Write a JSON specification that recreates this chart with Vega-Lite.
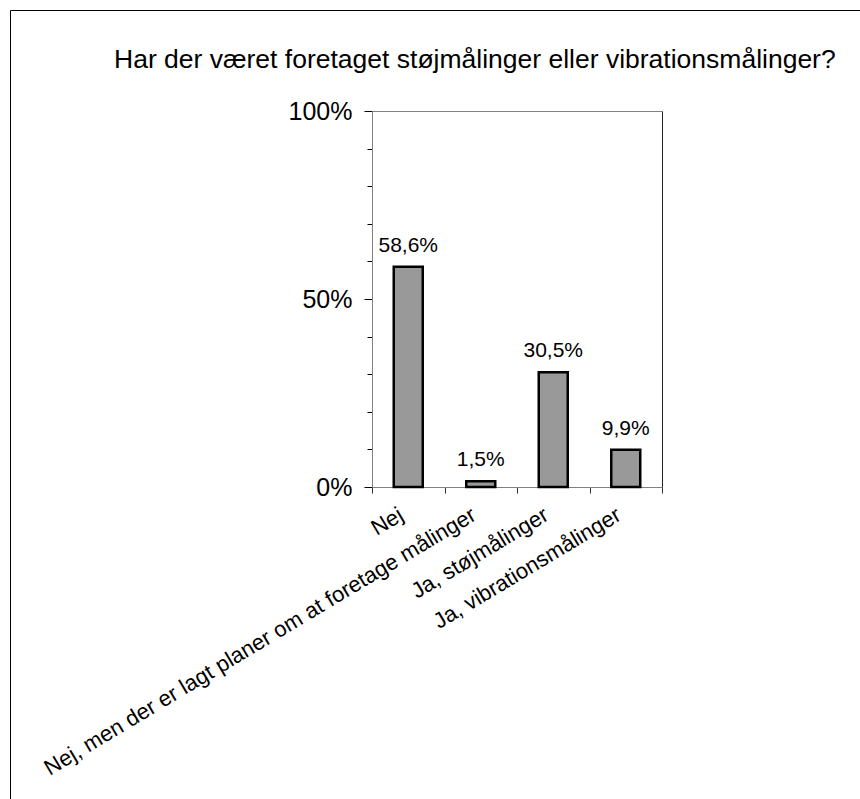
{
  "$schema": "https://vega.github.io/schema/vega-lite/v6.json",
  "width": 850,
  "height": 789,
  "autosize": {"type": "none"},
  "padding": {"left": 10, "top": 10, "right": 0, "bottom": 0},
  "background": "white",
  "title": {
    "text": "Har der været foretaget støjmålinger eller vibrationsmålinger?",
    "anchor": "start",
    "frame": "group",
    "dx": 104,
    "dy": 84,
    "offset": 0,
    "baseline": "alphabetic",
    "font": "Liberation Sans",
    "fontSize": 26.5,
    "fontWeight": "normal",
    "color": "black"
  },
  "data": {
    "values": [
      {"svar": "Nej", "andel": 0.586},
      {"svar": "Nej, men der er lagt planer om at foretage målinger", "andel": 0.015},
      {"svar": "Ja, støjmålinger", "andel": 0.305},
      {"svar": "Ja, vibrationsmålinger", "andel": 0.099}
    ]
  },
  "layer": [
    {
      "layer": [
        {
          "mark": {"type": "bar", "fill": "#999999", "stroke": "black", "strokeWidth": 2.5},
          "encoding": {
            "x": {
              "field": "svar", "type": "nominal", "sort": null,
              "scale": {"range": [362, 652], "paddingInner": 0.6, "paddingOuter": 0.3},
              "axis": {
                "orient": "bottom", "offset": -312, "title": null, "domain": false,
                "ticks": false, "tickSize": 0, "labelAngle": -31, "labelAlign": "right",
                "labelBaseline": "top", "labelPadding": 17, "labelOffset": -12,
                "labelFontSize": 22, "labelColor": "black", "labelLimit": 0,
                "labelFont": "Liberation Sans"
              }
            },
            "y": {
              "field": "andel", "type": "quantitative",
              "scale": {"domain": [0, 1], "range": [477, 101], "nice": false},
              "axis": {
                "orient": "left", "offset": -362, "title": null,
                "values": [0, 0.1, 0.2, 0.3, 0.4, 0.5, 0.6, 0.7, 0.8, 0.9, 1],
                "format": ".0%",
                "labelExpr": "datum.value === 0 || datum.value === 0.5 || datum.value === 1 ? datum.label : ''",
                "domainColor": "#808080", "tickColor": "black",
                "tickSize": {"condition": {"test": "datum.value === 0 || datum.value === 0.5 || datum.value === 1", "value": 8}, "value": 5},
                "labelPadding": 12, "labelFontSize": 25, "labelColor": "black",
                "labelFont": "Liberation Sans",
                "grid": true, "gridColor": "#808080",
                "gridOpacity": {"condition": {"test": "datum.value === 1", "value": 1}, "value": 0}
              }
            }
          }
        },
        {
          "mark": {"type": "text", "baseline": "alphabetic", "dy": -15, "fontSize": 21, "color": "black", "font": "Liberation Sans"},
          "encoding": {
            "x": {"field": "svar", "type": "nominal", "sort": null},
            "y": {"field": "andel", "type": "quantitative"},
            "text": {"field": "andel", "type": "quantitative", "format": ".1%"}
          }
        }
      ]
    },
    {
      "mark": {"type": "point", "opacity": 0},
      "encoding": {
        "x": {
          "field": "svar", "type": "nominal", "sort": null,
          "axis": {"orient": "top", "offset": 0, "title": null, "labels": false, "ticks": false, "grid": false, "domainColor": "black"}
        },
        "y": {
          "field": "andel", "type": "quantitative",
          "axis": {"orient": "left", "offset": 0, "title": null, "labels": false, "ticks": false, "grid": false, "domainColor": "black"}
        }
      }
    },
    {
      "mark": {"type": "point", "opacity": 0},
      "encoding": {
        "x": {
          "field": "svar", "type": "nominal", "sort": null,
          "scale": {"type": "band", "range": [362, 652], "paddingInner": 0, "paddingOuter": 0},
          "axis": {"orient": "bottom", "offset": -312, "title": null, "labels": false, "tickBand": "extent", "tickSize": 6, "tickColor": "#333333", "domainColor": "#808080", "grid": false}
        },
        "y": {
          "field": "andel", "type": "quantitative",
          "scale": {"domain": [0, 1], "range": [477, 101], "nice": false},
          "axis": {"orient": "right", "offset": -198, "title": null, "labels": false, "ticks": false, "grid": false, "domainColor": "#222222"}
        }
      }
    }
  ],
  "resolve": {
    "scale": {"x": "independent", "y": "independent"},
    "axis": {"x": "independent", "y": "independent"}
  },
  "config": {
    "view": {"stroke": null},
    "font": "Liberation Sans",
    "locale": {
      "number": {"decimal": ",", "thousands": ".", "grouping": [3], "currency": ["", " kr."]}
    }
  }
}
